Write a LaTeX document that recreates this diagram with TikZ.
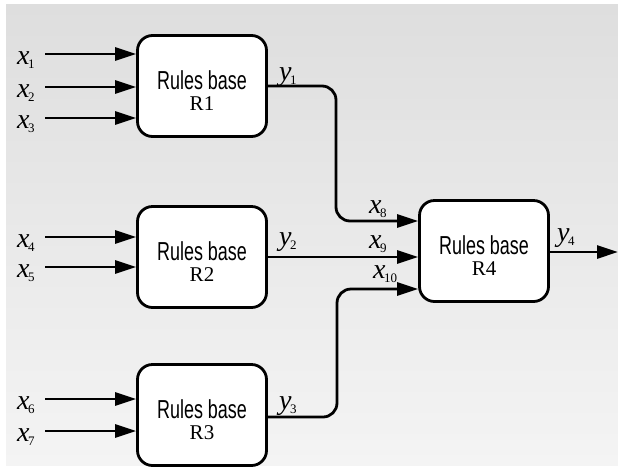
\documentclass[tikz,border=0pt]{standalone}
\usepackage{fontspec}
\setmainfont{Liberation Serif}
\setsansfont{Liberation Sans}
\usetikzlibrary{arrows.meta,calc}
\definecolor{bgtop}{HTML}{DEDEDE}
\definecolor{bgbot}{HTML}{F4F4F4}
% variable names: italic letter with a small upright index
\newcommand{\var}[2]{\fontsize{28}{28}\selectfont\textit{#1}\kern-1.5pt\raisebox{-4pt}{\fontsize{13}{13}\selectfont #2}}
\begin{document}
\begin{tikzpicture}[x=1pt,y=-1pt,
  rulebox/.style={draw,line width=2.8pt,fill=white,rounded corners=15pt,
    minimum width=129pt,minimum height=101pt,inner sep=0pt},
  head/.style={anchor=base,inner sep=0pt,font=\fontsize{26}{26}\selectfont\sffamily},
  tag/.style={anchor=base,inner sep=0pt,font=\fontsize{21}{21}\selectfont},
  arr/.style={line width=2.8pt,-{Triangle[length=21pt,width=13pt]}},
  lbl/.style={anchor=base west,inner sep=0pt}]
\useasboundingbox (0,0) rectangle (618,467);
\shade[top color=bgtop,bottom color=bgbot] (6,4) rectangle (618,465);

% rule bases: box, condensed heading, serif tag
\foreach \k/\cx/\cy in {1/202/86,2/202/257,3/202/415,4/484/251}{
  \node[rulebox] (R\k) at (\cx,\cy) {};
  \node[head] (H\k) at (\cx,\cy+3) {\scalebox{0.69}[1]{Rules base}};
  \node[tag] (T\k) at (\cx,\cy+24) {R\k};
}

% inputs
\foreach \n/\yy/\b in {1/54/R1,2/87/R1,3/118/R1,4/237/R2,5/267/R2,6/399/R3,7/431/R3}{
  \coordinate (s\n) at (45,\yy);
  \draw[arr] (s\n) -- (s\n -| \b.west);
  \node[lbl] (lx\n) at (17,\yy+10) {\var{x}{\n}};
}

% connections into R4
\coordinate (j1) at (336,221);
\coordinate (j3) at (337,289);
\draw[arr,rounded corners=14pt] (R1.east) -| (j1) -- (j1 -| R4.west);
\draw[arr] (R2.east) -- (R2.east -| R4.west);
\draw[arr,rounded corners=14pt] (R3.east |- 0,417) -| (j3) -- (j3 -| R4.west);

% output
\coordinate (out) at (618,252);
\draw[arr] (R4.east |- out) -- (out);

% labels on the links
\node[lbl] (ly1) at (279,80)  {\var{y}{1}};
\node[lbl] (ly2) at (279,245) {\var{y}{2}};
\node[lbl] (ly3) at (279,409) {\var{y}{3}};
\node[lbl] (ly4) at (557,241) {\var{y}{4}};
\node[lbl] (lx8) at (369,213) {\var{x}{8}};
\node[lbl] (lx9) at (369,248) {\var{x}{9}};
\node[lbl] (lx10) at (373,278) {\var{x}{10}};
\end{tikzpicture}
\end{document}
